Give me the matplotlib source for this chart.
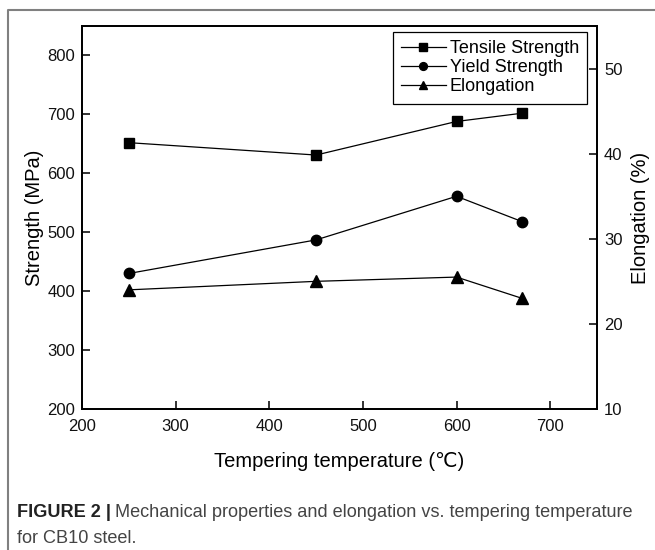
import matplotlib.pyplot as plt
from matplotlib.lines import Line2D

plt.rcParams['font.family'] = ['Liberation Sans', 'DejaVu Sans']

temp = [250, 450, 600, 670]
tensile = [652, 631, 688, 702]
yield_s = [430, 487, 561, 518]
elong = [24.0, 25.0, 25.5, 23.0]

fig = plt.figure(figsize=(6.55, 5.5), dpi=100)
W, H = 655, 550

# outer panel frame (left and top edges visible)
fig.add_artist(Line2D([8 / W, 8 / W, 1.0], [0.0, 1 - 10 / H, 1 - 10 / H],
                      transform=fig.transFigure, color='#808080', lw=1.5))

ax1 = fig.add_axes([82 / W, 1 - 409 / H, (597 - 82) / W, (409 - 26) / H])
ax2 = ax1.twinx()

l1, = ax1.plot(temp, tensile, color='black', lw=0.9, marker='s', ms=7, label='Tensile Strength')
l2, = ax1.plot(temp, yield_s, color='black', lw=0.9, marker='o', ms=7.5, label='Yield Strength')
l3, = ax2.plot(temp, elong, color='black', lw=0.9, marker='^', ms=8, label='Elongation')

ax1.set_xlim(200, 750)
ax1.set_ylim(200, 850)
ax2.set_ylim(10, 55)
ax1.set_xticks([200, 300, 400, 500, 600, 700])
ax1.set_yticks([200, 300, 400, 500, 600, 700, 800])
ax2.set_yticks([10, 20, 30, 40, 50])

for a in (ax1, ax2):
    a.tick_params(direction='in', length=5.5, width=1.2, labelsize=12, colors='#111111', pad=5)
    for s in a.spines.values():
        s.set_linewidth(1.3)
ax1.tick_params(axis='x', pad=7)

ax1.set_xlabel('Tempering temperature (\u2103)', fontsize=14.5, labelpad=13)
ax1.set_ylabel('Strength (MPa)', fontsize=14.5, labelpad=2)
ax2.set_ylabel('Elongation (%)', fontsize=14.5, labelpad=6)

leg = ax2.legend(handles=[l1, l2, l3], loc='upper right', fontsize=13,
                 bbox_to_anchor=((587 - 82) / 515, (409 - 32) / 383),
                 frameon=True, fancybox=False, edgecolor='black', framealpha=1,
                 handlelength=2.5, handletextpad=0.2, borderaxespad=0,
                 labelspacing=0.12, borderpad=0.45, markerscale=0.75)
leg.get_frame().set_linewidth(0.9)

# caption
cap_size = 13.1
t1 = fig.text(17 / W, 1 - 517 / H, 'FIGURE 2 |', fontsize=cap_size, fontweight='bold',
              color='#222222', va='baseline')
fig.canvas.draw()
bb = t1.get_window_extent(fig.canvas.get_renderer())
fig.text(bb.x1 / W + 4 / W, 1 - 517 / H,
         'Mechanical properties and elongation vs. tempering temperature',
         fontsize=cap_size, color='#444444', va='baseline')
fig.text(17 / W, 1 - 543 / H, 'for CB10 steel.', fontsize=cap_size, color='#444444', va='baseline')

fig.savefig('out.png', dpi=100)
